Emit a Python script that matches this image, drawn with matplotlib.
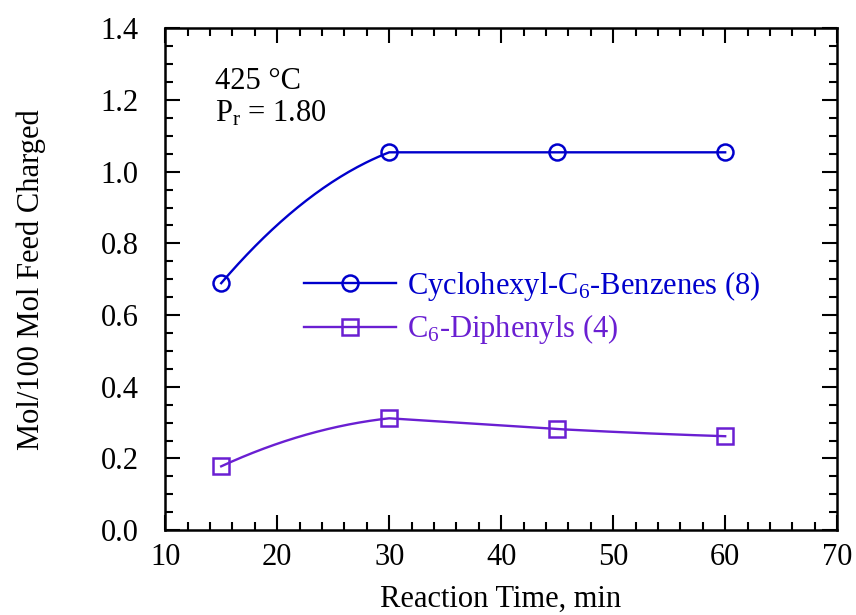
import numpy as np
import matplotlib
matplotlib.use('Agg')
import matplotlib.pyplot as plt
from matplotlib.ticker import MultipleLocator

# values
time_min = [15, 30, 45, 60]
cyclohexyl_benzenes = [0.689, 1.054, 1.054, 1.054]
diphenyls = [0.178, 0.312, 0.282, 0.262]

label_benz = 'Cyclohexyl-C$_6$-Benzenes (8)'
label_diph = 'C$_6$-Diphenyls (4)'

blue = '#0000cc'
purple = '#6a1fd2'


def stineman(x, y, n=80):
    # Stineman interpolation, used only to draw the smooth connecting line
    x = np.asarray(x, float)
    y = np.asarray(y, float)
    dx = np.diff(x)
    dy = np.diff(y)
    s = dy / dx
    m = np.zeros_like(y)
    for k in range(1, len(x) - 1):
        l1 = dx[k - 1]**2 + dy[k - 1]**2
        l2 = dx[k]**2 + dy[k]**2
        m[k] = (dy[k - 1] * l2 + dy[k] * l1) / (dx[k - 1] * l2 + dx[k] * l1)
    m[0] = 2 * s[0] - m[1] if s[0] * (2 * s[0] - m[1]) > 0 else 0.0
    m[-1] = 2 * s[-1] - m[-2] if s[-1] * (2 * s[-1] - m[-2]) > 0 else 0.0
    xs, ys = [], []
    for k in range(len(x) - 1):
        xx = np.linspace(x[k], x[k + 1], n)
        y0 = y[k] + s[k] * (xx - x[k])
        d1 = y[k] + m[k] * (xx - x[k]) - y0
        d2 = y[k + 1] + m[k + 1] * (xx - x[k + 1]) - y0
        prod = d1 * d2
        add = np.where(prod > 0, prod / np.where(prod > 0, d1 + d2, 1.0), 0.0)
        xs.append(xx)
        ys.append(y0 + add)
    return np.concatenate(xs), np.concatenate(ys)


plt.rcParams['font.family'] = ['Liberation Serif', 'DejaVu Serif']
plt.rcParams['mathtext.fontset'] = 'custom'
plt.rcParams['mathtext.rm'] = 'Liberation Serif'
plt.rcParams['mathtext.it'] = 'Liberation Serif'

fs = 22
fig = plt.figure(figsize=(8.56, 6.15), dpi=100)
ax = fig.add_axes([0.193, 0.138, 0.785, 0.816])

for y, col, mk, lab in [(cyclohexyl_benzenes, blue, 'o', label_benz),
                        (diphenyls, purple, 's', label_diph)]:
    xs, ys = stineman(time_min, y)
    ax.plot(xs, ys, color=col, lw=1.7)
    ax.plot(time_min, y, ls='none', marker=mk, ms=11.5, mfc='none', mec=col, mew=1.8)
    ax.plot([], [], color=col, lw=1.7, marker=mk, ms=11.5, mfc='none', mec=col, mew=1.8,
            label=lab)

ax.set_xlim(10, 70)
ax.set_ylim(0, 1.4)
ax.xaxis.set_major_locator(MultipleLocator(10))
ax.xaxis.set_minor_locator(MultipleLocator(2))
ax.yaxis.set_major_locator(MultipleLocator(0.2))
ax.yaxis.set_minor_locator(MultipleLocator(0.05))
ax.yaxis.set_major_formatter(lambda v, p: f'{v:.1f}')
ax.tick_params(which='both', direction='in', top=True, right=True, labelsize=fs, width=1.5)
ax.tick_params(which='major', length=11)
ax.tick_params(which='minor', length=5.5)
ax.tick_params(axis='x', which='major', pad=9)
ax.tick_params(axis='y', which='major', pad=19)
for s in ax.spines.values():
    s.set_linewidth(1.8)

ax.set_xlabel('Reaction Time, min', fontsize=fs)
ax.set_ylabel('Mol/100 Mol Feed Charged', fontsize=fs)
ax.xaxis.set_label_coords(0.4985, -0.108)
ax.yaxis.set_label_coords(-0.178, 0.5)

ax.text(0.074, 0.88, '425 °C', transform=ax.transAxes, fontsize=fs, va='baseline')
ax.text(0.074, 0.815, 'P$_\\mathrm{r}$ = 1.80', transform=ax.transAxes, fontsize=fs,
        va='baseline')

leg = ax.legend(loc='upper left', bbox_to_anchor=(0.207, 0.52), frameon=False, fontsize=fs,
                handlelength=3.0, handletextpad=0.35, labelspacing=0.3, borderpad=0,
                borderaxespad=0)
for txt, col in zip(leg.get_texts(), [blue, purple]):
    txt.set_color(col)

fig.savefig('out.png', dpi=100)
